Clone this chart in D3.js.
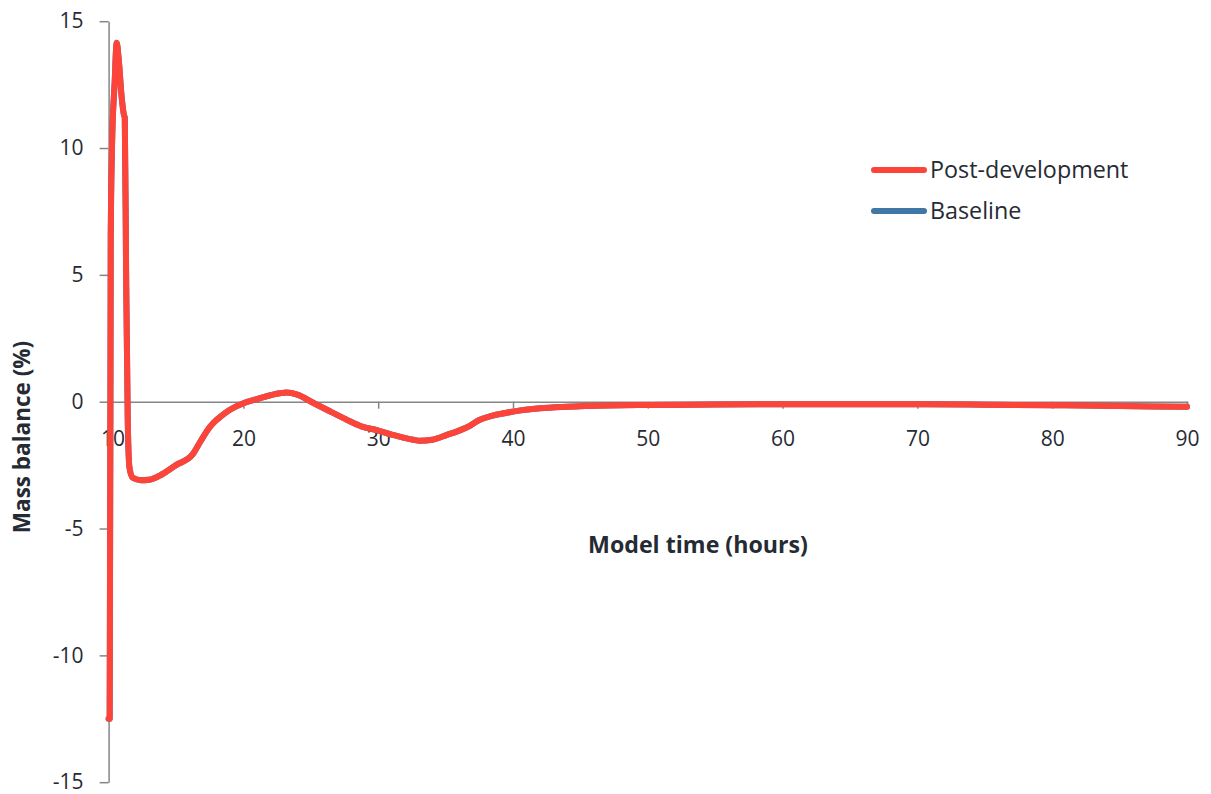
<!DOCTYPE html>
<html>
<head>
<meta charset="utf-8">
<script src="https://cdn.jsdelivr.net/npm/d3@7"></script>
<style>
  body { margin: 0; background: #fff; }
  svg { display: block; }
  text { font-family: "Open Sans", "Noto Sans", sans-serif; fill: #262b33; }
</style>
</head>
<body>
<svg id="chart" width="1211" height="794"></svg>
<script>
// Model time (hours)
const timeHours = [10.0, 10.08, 10.16, 10.25, 10.45, 10.6, 10.75, 10.97, 11.14, 11.2, 11.3, 11.42, 11.55, 11.8, 12.4, 13.0, 14.0, 15.0, 16.2, 16.8, 17.5, 18.0, 18.3, 19.0, 20.0, 21.0, 21.5, 22.7, 23.2, 24.0, 25.2, 26.5, 27.7, 28.8, 29.9, 31.0, 31.6, 32.6, 33.1, 34.0, 35.1, 36.1, 36.8, 37.5, 38.5, 40.0, 42.0, 44.0, 47.0, 50.0, 55.0, 60.0, 65.0, 70.0, 75.0, 80.0, 85.0, 90.0];
// Mass balance (%) after development
const postDevelopment = [-12.5, -12.5, 6.5, 10.0, 12.6, 14.15, 13.5, 12.0, 11.3, 11.2, 5.0, -0.7, -2.6, -3.0, -3.1, -3.08, -2.85, -2.5, -2.1, -1.58, -1.0, -0.72, -0.59, -0.32, -0.06, 0.1, 0.18, 0.33, 0.36, 0.28, -0.05, -0.4, -0.72, -0.98, -1.12, -1.3, -1.38, -1.5, -1.54, -1.5, -1.31, -1.12, -0.95, -0.72, -0.55, -0.39, -0.26, -0.2, -0.15, -0.13, -0.11, -0.1, -0.1, -0.1, -0.12, -0.14, -0.17, -0.2];
// Mass balance (%) for the baseline run (lies under the post-development trace)
const baseline = [-12.5, -12.5, 6.5, 10.0, 12.6, 14.15, 13.5, 12.0, 11.3, 11.2, 5.0, -0.7, -2.6, -3.0, -3.1, -3.08, -2.85, -2.5, -2.1, -1.58, -1.0, -0.72, -0.59, -0.32, -0.06, 0.1, 0.18, 0.33, 0.36, 0.28, -0.05, -0.4, -0.72, -0.98, -1.12, -1.3, -1.38, -1.5, -1.54, -1.5, -1.31, -1.12, -0.95, -0.72, -0.55, -0.39, -0.26, -0.2, -0.15, -0.13, -0.11, -0.1, -0.1, -0.1, -0.12, -0.14, -0.17, -0.2];

const xTicks = [10, 20, 30, 40, 50, 60, 70, 80, 90];
const yTicks = [-15, -10, -5, 0, 5, 10, 15];
const seriesNames = ["Post-development", "Baseline"];
const seriesColors = ["#fe4439", "#3f77a6"];

const svg = d3.select("#chart");
const axisColor = "#868686";
const plainNumber = d => String(d);

const x = d3.scaleLinear().domain([10, 90]).range([108.6, 1187]);
const y = d3.scaleLinear().domain([-15, 15]).range([782.2, 21.2]);

// Horizontal axis sits on the zero line
const xAxis = svg.append("g")
  .attr("transform", `translate(0,${y(0)})`)
  .call(d3.axisBottom(x).tickValues(xTicks).tickSize(7).tickPadding(22).tickFormat(plainNumber));
xAxis.select(".domain").attr("stroke", axisColor).attr("stroke-width", 1.5);
xAxis.selectAll(".tick line").attr("stroke", axisColor).attr("stroke-width", 1.5);
xAxis.selectAll(".tick text").attr("font-size", 21).attr("fill", "#262b33")
  .attr("font-family", "'Open Sans', sans-serif");
xAxis.selectAll(".tick text").filter(d => d === 10).attr("dx", 4);

// Vertical axis
const yAxis = svg.append("g")
  .attr("transform", `translate(${x(10)},0)`)
  .call(d3.axisLeft(y).tickValues(yTicks).tickSize(9).tickPadding(16).tickSizeOuter(0).tickFormat(plainNumber));
yAxis.select(".domain").attr("stroke", axisColor).attr("stroke-width", 1.5);
yAxis.selectAll(".tick line").attr("stroke", axisColor).attr("stroke-width", 1.5);
yAxis.selectAll(".tick text").attr("font-size", 21).attr("fill", "#262b33")
  .attr("font-family", "'Open Sans', sans-serif");

// Series lines
const line = d3.line()
  .x((d, i) => x(timeHours[i]))
  .y(d => y(d))
  .curve(d3.curveMonotoneX);

[baseline, postDevelopment].forEach((vals, k) => {
  svg.append("path")
    .datum(vals)
    .attr("fill", "none")
    .attr("stroke", k === 0 ? seriesColors[1] : seriesColors[0])
    .attr("stroke-width", 6)
    .attr("stroke-linejoin", "round")
    .attr("stroke-linecap", "round")
    .attr("d", line);
});

// Legend
const legend = svg.append("g").attr("transform", "translate(874,170)");
seriesNames.forEach((name, i) => {
  const g = legend.append("g").attr("transform", `translate(0,${i * 41})`);
  g.append("line").attr("x1", 0).attr("x2", 50).attr("y1", 0).attr("y2", 0)
    .attr("stroke", seriesColors[i]).attr("stroke-width", 6).attr("stroke-linecap", "round");
  g.append("text").attr("x", 56).attr("y", 0).attr("dy", "0.35em")
    .attr("font-size", 23.3).text(name);
});

// Axis titles
svg.append("text")
  .attr("x", 698).attr("y", 545).attr("dy", "0.35em")
  .attr("text-anchor", "middle").attr("font-size", 23.2).attr("font-weight", "bold")
  .text("Model time (hours)");

svg.append("text")
  .attr("transform", "translate(22,437) rotate(-90)")
  .attr("dy", "0.35em")
  .attr("text-anchor", "middle").attr("font-size", 22.5).attr("font-weight", "bold")
  .text("Mass balance (%)");
</script>
</body>
</html>
